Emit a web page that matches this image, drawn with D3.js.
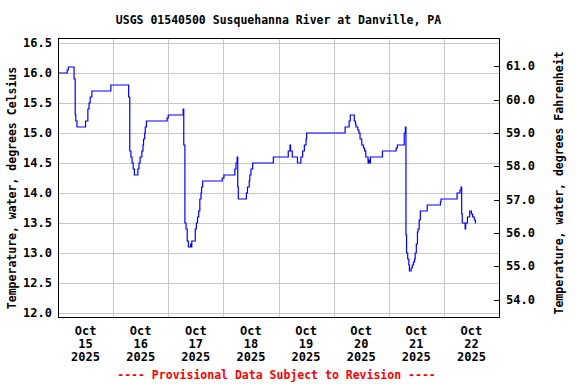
<!DOCTYPE html>
<html><head><meta charset="utf-8">
<script src="https://cdn.jsdelivr.net/npm/d3@7"></script>
<style>
html,body{margin:0;padding:0;background:#fff;}
text{font-family:"DejaVu Sans Mono",monospace;font-weight:bold;fill:#000;}
</style></head>
<body><svg id="chart" width="576" height="384"></svg>
<script>
const title = "USGS 01540500 Susquehanna River at Danville, PA";
const leftAxisTitle = "Temperature, water, degrees Celsius";
const rightAxisTitle = "Temperature, water, degrees Fahrenheit";
const footnote = "---- Provisional Data Subject to Revision ----";
const celsiusTicks = [12.0,12.5,13.0,13.5,14.0,14.5,15.0,15.5,16.0,16.5];
const fahrenheitTicks = [54,55,56,57,58,59,60,61];
const dayTicks = ["2025-10-15","2025-10-16","2025-10-17","2025-10-18","2025-10-19","2025-10-20","2025-10-21","2025-10-22"];
const times = [
"2025-10-15T00:00","2025-10-15T04:00","2025-10-15T04:30","2025-10-15T07:00","2025-10-15T07:30","2025-10-15T07:45","2025-10-15T08:15",
"2025-10-15T12:00","2025-10-15T13:00","2025-10-15T13:30","2025-10-15T14:00","2025-10-15T14:45","2025-10-15T23:00",
"2025-10-16T06:45","2025-10-16T07:15","2025-10-16T07:45","2025-10-16T08:15","2025-10-16T08:45","2025-10-16T09:15",
"2025-10-16T10:45","2025-10-16T11:15","2025-10-16T11:45","2025-10-16T12:30","2025-10-16T13:00","2025-10-16T13:15","2025-10-16T13:45","2025-10-16T14:00","2025-10-16T14:30","2025-10-16T23:30",
"2025-10-17T00:00","2025-10-17T06:30","2025-10-17T06:45","2025-10-17T07:15","2025-10-17T07:45","2025-10-17T08:15","2025-10-17T08:45",
"2025-10-17T09:45","2025-10-17T10:00","2025-10-17T10:15","2025-10-17T11:45","2025-10-17T12:15","2025-10-17T12:45","2025-10-17T13:15","2025-10-17T13:45","2025-10-17T14:15","2025-10-17T14:30","2025-10-17T15:00","2025-10-17T23:30",
"2025-10-18T00:15","2025-10-18T05:00","2025-10-18T05:30","2025-10-18T06:00","2025-10-18T06:15","2025-10-18T06:30",
"2025-10-18T10:00","2025-10-18T10:30","2025-10-18T11:15","2025-10-18T11:30","2025-10-18T12:00","2025-10-18T12:45","2025-10-18T21:45",
"2025-10-19T04:15","2025-10-19T05:00","2025-10-19T05:15","2025-10-19T06:00","2025-10-19T08:15","2025-10-19T09:45","2025-10-19T10:30","2025-10-19T11:15","2025-10-19T12:00","2025-10-19T12:15",
"2025-10-20T05:00","2025-10-20T06:45","2025-10-20T07:15","2025-10-20T09:00","2025-10-20T09:30","2025-10-20T09:45","2025-10-20T10:30","2025-10-20T11:00","2025-10-20T11:30","2025-10-20T12:15","2025-10-20T13:00","2025-10-20T13:30","2025-10-20T14:00","2025-10-20T15:00","2025-10-20T15:15","2025-10-20T15:30","2025-10-20T16:00","2025-10-20T21:15",
"2025-10-21T03:15","2025-10-21T03:45","2025-10-21T06:45","2025-10-21T07:15","2025-10-21T07:30","2025-10-21T07:45","2025-10-21T08:15","2025-10-21T08:45","2025-10-21T09:00","2025-10-21T09:45","2025-10-21T10:15","2025-10-21T10:45","2025-10-21T11:15","2025-10-21T11:30","2025-10-21T12:00","2025-10-21T12:30","2025-10-21T12:45","2025-10-21T13:15","2025-10-21T13:45","2025-10-21T16:45","2025-10-21T22:30","2025-10-21T22:45",
"2025-10-22T05:45","2025-10-22T07:00","2025-10-22T07:30","2025-10-22T07:45","2025-10-22T08:00","2025-10-22T09:15","2025-10-22T09:30","2025-10-22T10:15","2025-10-22T11:15","2025-10-22T12:00","2025-10-22T12:30","2025-10-22T13:15","2025-10-22T13:45","2025-10-22T14:00"
];
const tempsC = [
16.0,16.05,16.1,15.9,15.3,15.2,15.1,
15.2,15.4,15.5,15.6,15.7,15.8,
15.6,14.7,14.6,14.5,14.4,14.3,
14.4,14.5,14.6,14.7,14.8,14.9,15.0,15.1,15.2,15.25,
15.3,15.4,14.8,13.5,13.4,13.2,13.1,
13.15,13.1,13.2,13.4,13.5,13.6,13.7,13.9,14.0,14.1,14.2,14.25,
14.3,14.4,14.5,14.6,14.1,13.9,
14.0,14.1,14.2,14.3,14.4,14.5,14.6,
14.7,14.8,14.7,14.6,14.5,14.6,14.7,14.8,14.9,15.0,
15.1,15.2,15.3,15.2,15.15,15.1,15.05,15.0,14.9,14.8,14.75,14.7,14.6,14.5,14.55,14.5,14.6,14.7,
14.75,14.8,15.0,15.1,13.3,13.0,12.9,12.8,12.7,12.75,12.8,12.85,12.9,13.0,13.15,13.35,13.4,13.55,13.7,13.8,13.85,13.9,
14.0,14.05,14.1,13.65,13.5,13.4,13.5,13.6,13.7,13.65,13.6,13.55,13.5,13.5
];

const parse = d3.utcParse("%Y-%m-%dT%H:%M");
const parseDay = d3.utcParse("%Y-%m-%d");
const data = times.map((t,i)=>({t:parse(t), v:tempsC[i]}));

const L=58, R=499, T=38, B=317;
const svg = d3.select("#chart");
const x = d3.scaleUtc().domain([parseDay("2025-10-15"), parseDay("2025-10-23")]).range([L,R]);
const y = d3.scaleLinear().domain([12,16.5]).range([313,43]);
const yDomainPx = [y.invert(B), y.invert(T)];
const yF = d3.scaleLinear().domain(yDomainPx.map(c=>c*9/5+32)).range([B,T]);

// gridlines
const grid = svg.append("g").attr("stroke","#c8c8c8").attr("stroke-width",1).attr("shape-rendering","crispEdges");
celsiusTicks.forEach(c=>{ grid.append("line").attr("x1",L).attr("x2",R).attr("y1",Math.round(y(c))+0.5).attr("y2",Math.round(y(c))+0.5); });
const midnights = d3.utcDay.range(parseDay("2025-10-16"), parseDay("2025-10-23"));
midnights.forEach(d=>{ grid.append("line").attr("y1",T).attr("y2",B).attr("x1",Math.round(x(d))+0.5).attr("x2",Math.round(x(d))+0.5); });

// data line
const line = d3.line().x(d=>x(d.t)).y(d=>y(d.v)).curve(d3.curveStepAfter);
svg.append("path").datum(data).attr("d",line).attr("fill","none").attr("stroke","#0000ff").attr("stroke-width",1.2);

// frame
svg.append("rect").attr("x",L+0.5).attr("y",T+0.5).attr("width",R-L).attr("height",B-T)
  .attr("fill","none").attr("stroke","#000").attr("stroke-width",1).attr("shape-rendering","crispEdges");

// left axis labels
svg.append("g").selectAll("text").data(celsiusTicks).join("text")
  .attr("x",52).attr("y",d=>y(d)+4).attr("text-anchor","end").attr("font-size",12).text(d=>d.toFixed(1));

// right axis ticks + labels
const rg = svg.append("g");
rg.selectAll("line").data(fahrenheitTicks).join("line")
  .attr("x1",R-5).attr("x2",R).attr("y1",d=>Math.round(yF(d))+0.5).attr("y2",d=>Math.round(yF(d))+0.5)
  .attr("stroke","#000").attr("shape-rendering","crispEdges");
rg.selectAll("text").data(fahrenheitTicks).join("text")
  .attr("x",506).attr("y",d=>yF(d)+4).attr("text-anchor","start").attr("font-size",12).text(d=>d.toFixed(1));

// x labels
const fmtMon = d3.utcFormat("%b"), fmtDay = d3.utcFormat("%d"), fmtYr = d3.utcFormat("%Y");
const xg = svg.append("g");
dayTicks.forEach(s=>{
  const d = parseDay(s);
  const cx = x(d3.utcHour.offset(d,12));
  const t = xg.append("text").attr("text-anchor","middle").attr("font-size",12);
  t.append("tspan").attr("x",cx).attr("y",335).text(fmtMon(d));
  t.append("tspan").attr("x",cx).attr("y",348).text(fmtDay(d));
  t.append("tspan").attr("x",cx).attr("y",361).text(fmtYr(d));
});

// titles
svg.append("text").attr("x",(L+R)/2).attr("y",24).attr("text-anchor","middle").attr("font-size",11.5).text(title);
svg.append("text").attr("transform","translate(16,188) rotate(-90)").attr("text-anchor","middle").attr("font-size",11.5).text(leftAxisTitle);
svg.append("text").attr("transform","translate(563,183) rotate(-90)").attr("text-anchor","middle").attr("font-size",11.5).text(rightAxisTitle);
svg.append("text").attr("x",(L+R)/2-2).attr("y",379).attr("text-anchor","middle").attr("font-size",11.5).style("fill","#ff0000").text(footnote);
</script></body></html>
